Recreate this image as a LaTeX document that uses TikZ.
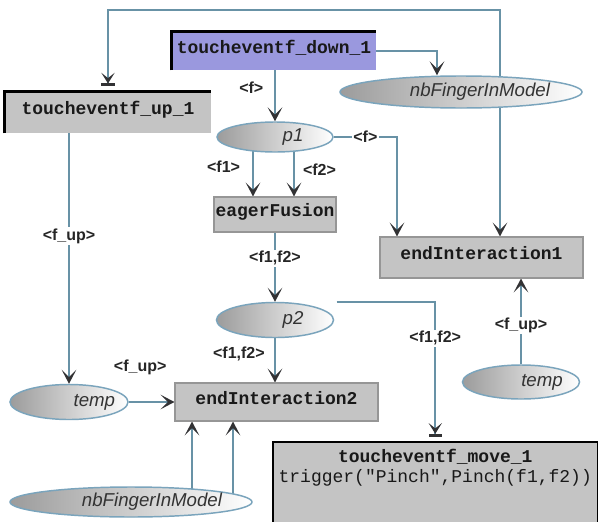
\documentclass[tikz,border=0pt]{standalone}
\usepackage{fontspec}
\setmainfont{Liberation Sans}
\newfontfamily\codefont{Liberation Mono}
\usetikzlibrary{arrows.meta,shapes.geometric}

\pgfdeclarelayer{wires}
\pgfsetlayers{wires,main}

\definecolor{wire}{RGB}{104,146,166}
\definecolor{rim}{RGB}{122,164,188}
\definecolor{tipcol}{RGB}{50,50,52}
\definecolor{boxgray}{RGB}{196,196,196}
\definecolor{boxedge}{RGB}{150,150,150}
\definecolor{lavender}{RGB}{154,152,222}

\tikzset{
  flow/.style={draw=wire, line width=1.5pt,
    -{Stealth[length=10.5pt,width=11pt,inset=5.5pt,color=tipcol]}},
  barflow/.style={draw=wire, line width=1.5pt, shorten >=4pt,
    -{Stealth[length=8pt,width=10pt,inset=4pt,color=tipcol] Bar[width=10pt,line width=2.2pt,color=tipcol]}},
  lbl/.style={fill=white, inner sep=1pt, text=black!85,
    font=\bfseries\fontsize{12}{14}\selectfont},
  codebox/.style={rectangle, fill=boxgray, inner sep=0pt, text=black!90,
    font=\codefont\bfseries\fontsize{13.5}{15}\selectfont,
    text height=9pt, text depth=6pt},
  opbox/.style={codebox, draw=boxedge, line width=0.8pt},
  bevel/.style={draw=black, line width=2.2pt},
  place/.style={ellipse, draw=rim, line width=1.1pt, inner sep=0pt,
    left color=gray!78, middle color=gray!12, right color=white},
  placetext/.style={font=\itshape\fontsize{14}{16}\selectfont,
    text=black!80, inner sep=0pt},
}

\begin{document}
\begin{tikzpicture}[x=0.75pt,y=-0.75pt]
\useasboundingbox (0,0) rectangle (599,521);

% event boxes
\node[codebox, fill=lavender, minimum width=153pt, minimum height=28.5pt]
  (down1) at (274,51) {toucheventf\_down\_1};
\node[codebox, minimum width=154.5pt, minimum height=30.75pt]
  (up1) at (108,112.5) {toucheventf\_up\_1};
\node[codebox, anchor=north west, text width=239pt, align=center,
  inner xsep=2pt, inner ysep=5pt, text height=10pt, text depth=40pt]
  (move1) at (273,442)
  {toucheventf\_move\_1\\{\mdseries trigger("Pinch",Pinch(f1,f2))}};

% operator boxes
\node[opbox, minimum width=91.5pt, minimum height=26.25pt]
  (eager) at (275,214.5) {eagerFusion};
\node[opbox, minimum width=152.25pt, minimum height=30.75pt]
  (endint1) at (481.5,257.5) {endInteraction1};
\node[opbox, minimum width=152.25pt, minimum height=28.5pt]
  (endint2) at (276.5,402) {endInteraction2};

% places
\node[place, minimum width=181.5pt, minimum height=24pt,
  label={[placetext, xshift=14.25pt]center:nbFingerInModel}]
  (nbf) at (461,92) {};
\node[place, minimum width=87pt, minimum height=22.5pt,
  label={[placetext, xshift=13.5pt]center:p1}]
  (p1) at (275,137) {};
\node[place, minimum width=87.75pt, minimum height=26.25pt,
  label={[placetext, xshift=13.5pt]center:p2}]
  (p2) at (275,320) {};
\node[place, minimum width=87.75pt, minimum height=25.5pt,
  label={[placetext, xshift=15.75pt]center:temp}]
  (tempr) at (521,382) {};
\node[place, minimum width=88.5pt, minimum height=26.25pt,
  label={[placetext, xshift=19pt]center:temp}]
  (templ) at (69,402) {};
\node[place, minimum width=181.5pt, minimum height=22.5pt,
  label={[placetext, xshift=15.75pt]center:nbFingerInModel}]
  (nbf2) at (131,502) {};

% raised edges of the event boxes
\draw[bevel] (down1.south west) |- (down1.north east);
\draw[bevel] (up1.south west) |- (up1.north east);
\draw[bevel] (move1.south west) |- (move1.north east);
\draw[black, line width=1pt] (move1.north east) -- (move1.south east);

% routing columns
\coordinate (loopR) at (500,10);
\coordinate (xnb) at (437,0);
\coordinate (xe1) at (397,0);
\coordinate (xf1) at (253,0);
\coordinate (xf2) at (294,0);
\coordinate (xb1) at (192,0);
\coordinate (xb2) at (233,0);

\begin{pgfonlayer}{wires}
\fill[white] (0,0) rectangle (599,521);

\draw[flow] (down1.south -| p1.north) -- (p1.north)
  node[lbl, pos=0.35, left=7pt] {<f>};
\draw[flow] (down1.east) -| (nbf.north -| xnb);
\draw[barflow] (nbf.center -| loopR) |- (up1.north |- loopR) -- (up1.north);
\draw[flow] (nbf.center -| loopR) -- (endint1.north -| loopR);

\draw[flow] (p1.east) -| (endint1.north -| xe1)
  node[lbl, pos=0.25] {<f>};
\draw[flow] (p1.center -| xf1) -- (eager.north -| xf1)
  node[lbl, pos=0.5, left=8pt] {<f1>};
\draw[flow] (p1.center -| xf2) -- (eager.north -| xf2)
  node[lbl, pos=0.55, right=5pt] {<f2>};

\draw[flow] (eager.south) -- (p2.north)
  node[lbl, pos=0.37] {<f1,f2>};
\draw[flow] (p2.south) -- (endint2.north -| p2.south)
  node[lbl, pos=0.36, left=6pt] {<f1,f2>};
\draw[barflow] (p2.north -| eager.east) -| (move1.north)
  node[lbl, pos=0.63] {<f1,f2>};

\draw[flow] (up1.south -| templ.north) -- (templ.north)
  node[lbl, pos=0.41] {<f\_up>};
\draw[flow] (templ.east) -- (endint2.west)
  node[lbl, pos=0.25, above=19pt] {<f\_up>};
\draw[flow] (tempr.north) -- (endint1.south -| tempr.north)
  node[lbl, pos=0.45] {<f\_up>};

\draw[flow] (nbf2.center -| xb1) -- (endint2.south -| xb1);
\draw[flow] (nbf2.center -| xb2) -- (endint2.south -| xb2);
\end{pgfonlayer}
\end{tikzpicture}
\end{document}
